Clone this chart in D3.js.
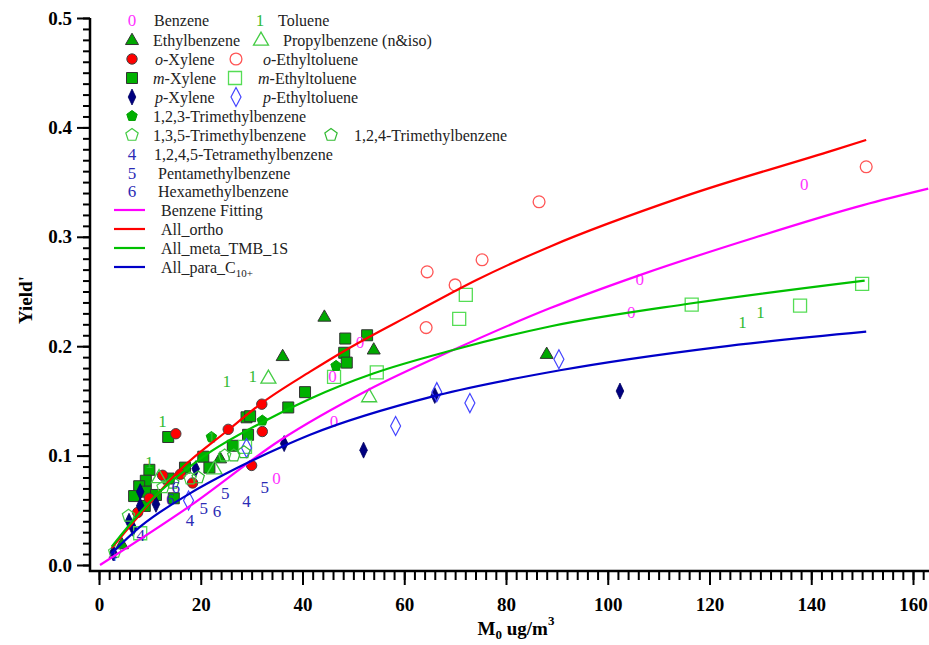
<!doctype html>
<html>
<head>
<meta charset="utf-8">
<script src="https://d3js.org/d3.v7.min.js"></script>
<style>
    body { margin: 0; background: #fff; }
    svg text { font-family: "Liberation Serif", "Times New Roman", serif; }
    .tick text { font-weight: bold; font-size: 19px; fill: #000; }
    .tick line { stroke: #000; stroke-width: 2px; }
    .legend text { font-size: 16px; fill: #222; }
    .title { font-weight: bold; font-size: 19px; fill: #000; }
</style>
</head>
<body>
<svg id="chart" width="929" height="645"></svg>
<script>
// ---- data: [M0, Yield'] ----
var benzene = [[138.6,0.348],[106.3,0.261],[104.6,0.231],[51.3,0.203],[45.9,0.172],[46.2,0.131],[34.9,0.079]];
var toluene = [[126.5,0.222],[130,0.231],[25.1,0.168],[30.2,0.172],[12.5,0.131],[9.9,0.094],[22.1,0.117]];
var ethylbenzene = [[44.3,0.227],[36.1,0.191],[54,0.197],[88,0.193],[23.8,0.0975],[4.5,0.019]];
var propylbenzene = [[33.3,0.171],[53.1,0.154],[11.8,0.080],[22.7,0.088]];
var oXylene = [[15.1,0.120],[12.5,0.082],[16.0,0.083],[9.9,0.061],[7.6,0.048],[18.4,0.075],[25.4,0.124],[32.0,0.147],[32.1,0.122],[30.0,0.091]];
var oEthyltoluene = [[64.5,0.268],[70,0.256],[75.3,0.279],[86.5,0.332],[150.8,0.364],[64.3,0.217]];
var mXylene = [[13.6,0.117],[9.9,0.087],[9.2,0.077],[7.9,0.072],[6.9,0.063],[9.2,0.067],[11.2,0.064],[13.7,0.079],[14.7,0.061],[9.0,0.054],
               [16.9,0.089],[20.5,0.099],[21.7,0.089],[26.3,0.109],[29.3,0.119],[29.0,0.135],[29.7,0.136],[37.2,0.144],[40.5,0.158],
               [48.4,0.207],[48.2,0.194],[48.7,0.185],[52.7,0.210]];
var mEthyltoluene = [[116.5,0.238],[137.8,0.237],[150,0.257],[72.1,0.247],[70.8,0.225],[54.6,0.176],[46.2,0.172],[28.7,0.108],[8.1,0.029]];
var pXylene = [[102.4,0.159],[66,0.155],[52,0.105],[36.4,0.111],[19,0.088],[8.1,0.067],[8.1,0.054],[11.2,0.0555],[5.9,0.040],[6.7,0.0335],[2.8,0.011]];
var pEthyltoluene = [[90.4,0.188],[72.9,0.148],[58.3,0.127],[66.4,0.158],[29,0.107],[17.6,0.059]];
var tmb123 = [[46.6,0.182],[32.1,0.132],[22.1,0.117]];
var tmb135 = [[5.8,0.045],[12.6,0.071],[17.9,0.079],[24.7,0.100],[3.1,0.012]];
var tmb124 = [[19.5,0.080],[26.5,0.100],[14.5,0.075],[28.5,0.103]];
var tetraMB = [[29,0.058],[17.9,0.041],[8.2,0.027],[2.7,0.009]];
var pentaMB = [[24.8,0.0655],[20.6,0.052],[32.6,0.071]];
var hexaMB = [[23.2,0.049],[15.1,0.071],[14.0,0.060]];

// fitted curves, traced points
var benzeneFit = [[0.2,0.0],[17.9,0.054],[35.6,0.114],[52.9,0.160],[69.6,0.1965],[88.6,0.2346],[106.3,0.265],[128,0.298],[150.2,0.329],[163,0.344]];
var allOrtho = [[2.5,0.0155],[8,0.046],[15.9,0.0868],[25.4,0.1234],[32,0.148],[41.5,0.1767],[48.7,0.197],[61.8,0.230],[74.2,0.2605],[88.6,0.291],[114.9,0.3367],[144.3,0.379],[150.8,0.3885]];
var allMeta = [[2.5,0.0168],[10,0.058],[20.5,0.099],[32.3,0.131],[41.5,0.152],[53.9,0.175],[69.6,0.1965],[88.6,0.218],[116.2,0.239],[150.5,0.260]];
var allPara = [[2.5,0.0107],[8.1,0.035],[17.9,0.0655],[27.7,0.090],[36.2,0.1085],[41.5,0.119],[66.4,0.155],[90.6,0.178],[121.4,0.199],[150.8,0.2133]];

var xTicks = [0, 20, 40, 60, 80, 100, 120, 140, 160];
var yTicks = [0, 0.1, 0.2, 0.3, 0.4, 0.5];

var svg = d3.select("#chart");
var x = d3.scaleLinear().domain([0, 160]).range([99, 913]);
var y = d3.scaleLinear().domain([0, 0.5]).range([565, 18]);

// ---- axes ----
var axisY = 571, axisX = 90;
svg.append("g").attr("transform", "translate(0," + axisY + ")")
    .call(d3.axisBottom(x).tickValues(d3.range(0, 163, 2)).tickSize(9).tickFormat(""))
    .call(function(g) { g.select(".domain").remove(); });
svg.append("g").attr("transform", "translate(0," + axisY + ")")
    .call(d3.axisBottom(x).tickValues(xTicks).tickSize(14).tickPadding(13).tickFormat(d3.format("d")))
    .call(function(g) { g.select(".domain").remove(); });
svg.append("g").attr("transform", "translate(" + axisX + ",0)")
    .call(d3.axisLeft(y).tickValues(d3.range(0, 0.501, 0.01)).tickSize(7).tickFormat(""))
    .call(function(g) { g.select(".domain").remove(); });
svg.append("g").attr("transform", "translate(" + axisX + ",0)")
    .call(d3.axisLeft(y).tickValues(yTicks).tickSize(13).tickPadding(5).tickFormat(d3.format(".1f")))
    .call(function(g) { g.select(".domain").remove(); });
svg.append("path")
    .attr("d", "M" + axisX + "," + y(0.5) + "V" + axisY + "H929")
    .attr("fill", "none").attr("stroke", "#000").attr("stroke-width", 2.5);

svg.append("text").attr("class", "title")
    .attr("transform", "translate(32,300) rotate(-90)")
    .attr("text-anchor", "middle").text("Yield'");
var xt = svg.append("text").attr("class", "title").attr("x", 516).attr("y", 635).attr("text-anchor", "middle");
xt.append("tspan").text("M");
xt.append("tspan").attr("dy", 4).attr("font-size", 13).text("0");
xt.append("tspan").attr("dy", -4).text(" ug/m");
xt.append("tspan").attr("dy", -10).attr("font-size", 13).text("3");

// ---- marker shapes ----
function tri(s) { var h = s * 0.87; return "M0," + (-h * 0.6) + "L" + (s / 2) + "," + (h * 0.4) + "L" + (-s / 2) + "," + (h * 0.4) + "Z"; }
function diamond(w, h) { return "M0," + (-h) + "L" + w + ",0L0," + h + "L" + (-w) + ",0Z"; }
function pentagon(r) {
    return d3.range(5).map(function(k, i) {
        var a = -Math.PI / 2 + k * 2 * Math.PI / 5;
        return (i ? "L" : "M") + (r * Math.cos(a)).toFixed(2) + "," + (r * Math.sin(a)).toFixed(2);
    }).join("") + "Z";
}
var styles = {
    benzene:  { text: "0", color: "#ff33ff" },
    toluene:  { text: "1", color: "#33bb33" },
    tetra:    { text: "4", color: "#2b2bb5" },
    penta:    { text: "5", color: "#2b2bb5" },
    hexa:     { text: "6", color: "#2b2bb5" },
    ethyl:    { path: tri(13), fill: "#00a800", stroke: "#333", sw: 1 },
    propyl:   { path: tri(15), fill: "none", stroke: "#44cc44", sw: 1.3 },
    oxyl:     { path: d3.symbol(d3.symbolCircle, 85)(), fill: "#ff0000", stroke: "#444", sw: 1 },
    oet:      { path: d3.symbol(d3.symbolCircle, 110)(), fill: "none", stroke: "#ff5555", sw: 1.3 },
    mxyl:     { path: "M-5.5,-5.5h11v11h-11Z", fill: "#00b000", stroke: "#333", sw: 1 },
    met:      { path: "M-6.5,-6.5h13v13h-13Z", fill: "none", stroke: "#55dd55", sw: 1.3 },
    pxyl:     { path: diamond(3.8, 8), fill: "#000080", stroke: "#000060", sw: 0.8 },
    pet:      { path: diamond(5, 9.5), fill: "none", stroke: "#4444ff", sw: 1.2 },
    tmb123:   { path: pentagon(5.5), fill: "#00b000", stroke: "#00a000", sw: 1 },
    tmb135:   { path: pentagon(6.5), fill: "none", stroke: "#44cc44", sw: 1.2 },
    tmb124:   { path: pentagon(6.5), fill: "none", stroke: "#33bb33", sw: 1.2 }
};
function drawMarker(g, key, px, py) {
    var st = styles[key];
    if (st.text) {
        g.append("text").attr("x", px).attr("y", py + 5.5).attr("text-anchor", "middle")
            .style("font-size", "17px").style("fill", st.color).text(st.text);
    } else {
        g.append("path").attr("d", st.path).attr("transform", "translate(" + px + "," + py + ")")
            .attr("fill", st.fill).attr("stroke", st.stroke).attr("stroke-width", st.sw);
    }
}

var series = [
    [mXylene, "mxyl"], [oXylene, "oxyl"], [ethylbenzene, "ethyl"], [pXylene, "pxyl"],
    [propylbenzene, "propyl"], [mEthyltoluene, "met"], [oEthyltoluene, "oet"], [pEthyltoluene, "pet"],
    [tmb123, "tmb123"], [tmb135, "tmb135"], [tmb124, "tmb124"],
    [benzene, "benzene"], [toluene, "toluene"], [tetraMB, "tetra"], [pentaMB, "penta"], [hexaMB, "hexa"]
];
var marks = svg.append("g");
series.forEach(function(s) {
    s[0].forEach(function(d) { drawMarker(marks, s[1], x(d[0]), y(d[1])); });
});

// ---- fitted curves ----
var line = d3.line().x(function(d) { return x(d[0]); }).y(function(d) { return y(d[1]); }).curve(d3.curveMonotoneX);
var fits = [[benzeneFit, "#ff00ff"], [allOrtho, "#ff0000"], [allMeta, "#00c000"], [allPara, "#0000c8"]];
fits.forEach(function(f) {
    svg.append("path").datum(f[0]).attr("d", line)
        .attr("fill", "none").attr("stroke", f[1]).attr("stroke-width", 2.2);
});

// ---- legend ----
var lg = svg.append("g").attr("class", "legend");
function label(tx, ty, parts) {
    var t = lg.append("text").attr("x", tx).attr("y", ty + 5.5);
    parts.forEach(function(p) {
        var sp = t.append("tspan").text(p[0]);
        if (p[1] === "i") sp.attr("font-style", "italic");
        if (p[1] === "sub") sp.style("font-size", "11px").attr("dy", 4);
    });
}
var rows = [20, 40, 59, 78, 97, 116, 135, 154, 173, 191, 210, 229, 248, 267];
drawMarker(lg, "benzene", 132, rows[0]); label(154, rows[0], [["Benzene"]]);
drawMarker(lg, "toluene", 260, rows[0]); label(278, rows[0], [["Toluene"]]);
drawMarker(lg, "ethyl", 132, rows[1]); label(153, rows[1], [["Ethylbenzene"]]);
drawMarker(lg, "propyl", 261, rows[1]); label(283, rows[1], [["Propylbenzene (n&iso)"]]);
drawMarker(lg, "oxyl", 132, rows[2]); label(155, rows[2], [["o", "i"], ["-Xylene"]]);
drawMarker(lg, "oet", 236, rows[2]); label(263, rows[2], [["o", "i"], ["-Ethyltoluene"]]);
drawMarker(lg, "mxyl", 132, rows[3]); label(153, rows[3], [["m", "i"], ["-Xylene"]]);
drawMarker(lg, "met", 235, rows[3]); label(258, rows[3], [["m", "i"], ["-Ethyltoluene"]]);
drawMarker(lg, "pxyl", 132, rows[4]); label(155, rows[4], [["p", "i"], ["-Xylene"]]);
drawMarker(lg, "pet", 236, rows[4]); label(263, rows[4], [["p", "i"], ["-Ethyltoluene"]]);
drawMarker(lg, "tmb123", 132, rows[5]); label(153, rows[5], [["1,2,3-Trimethylbenzene"]]);
drawMarker(lg, "tmb135", 132, rows[6]); label(153, rows[6], [["1,3,5-Trimethylbenzene"]]);
drawMarker(lg, "tmb124", 331, rows[6]); label(354, rows[6], [["1,2,4-Trimethylbenzene"]]);
drawMarker(lg, "tetra", 132, rows[7]); label(154, rows[7], [["1,2,4,5-Tetramethylbenzene"]]);
drawMarker(lg, "penta", 132, rows[8]); label(158, rows[8], [["Pentamethylbenzene"]]);
drawMarker(lg, "hexa", 132, rows[9]); label(158, rows[9], [["Hexamethylbenzene"]]);
var lineNames = [[["Benzene Fitting"]], [["All_ortho"]], [["All_meta_TMB_1S"]], [["All_para_C"], ["10+", "sub"]]];
fits.forEach(function(f, i) {
    var ry = rows[10 + i];
    lg.append("line").attr("x1", 114).attr("x2", 145).attr("y1", ry).attr("y2", ry)
        .attr("stroke", f[1]).attr("stroke-width", 2.2);
    label(161, ry, lineNames[i]);
});
</script>
</body>
</html>
